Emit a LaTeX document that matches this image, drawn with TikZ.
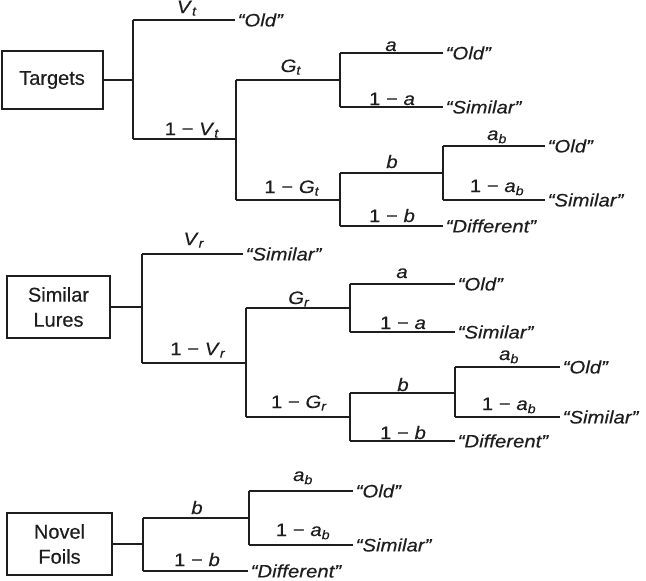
\documentclass[tikz,border=0pt]{standalone}
\usepackage{fontspec}
\setmainfont{Liberation Sans}
\newfontfamily\labfont{Liberation Sans}[FakeStretch=1.13,FakeBold=0.3]
\newfontfamily\boxfont{Liberation Sans}[FakeBold=0.3]
\newcommand\mysub[1]{\textsubscript{\textit{#1}}}
\definecolor{ink}{HTML}{1E1E1E}
\tikzset{
  ln/.style={line width=2pt, draw=ink},
  box/.style={draw=ink, line width=2pt, text=ink, font=\boxfont\fontsize{20}{25}\selectfont, align=center, inner sep=0pt},
  leaf/.style={anchor=west, inner sep=2.5pt, text=ink, font=\labfont\fontsize{18}{20}\selectfont\itshape},
  lbl/.style={anchor=base, inner sep=0pt, text=ink, font=\labfont\fontsize{18}{20}\selectfont},
}
\begin{document}
\begin{tikzpicture}[x=1pt,y=-1pt]
\useasboundingbox (0,0) rectangle (646,581);

% ================= Targets =================
\node[box, minimum width=101pt, minimum height=58pt] (T) at (52,80) {Targets};
\coordinate (tJ) at (133,80);
\coordinate (tVa) at (133,20);
\coordinate (tVb) at (133,139);
\coordinate (tK) at (236,139);
\coordinate (tGa) at (236,80);
\coordinate (tGb) at (236,200);
\coordinate (tA) at (340,80);
\coordinate (tAa) at (340,53);
\coordinate (tAb) at (340,107);
\coordinate (tB) at (340,200);
\coordinate (tBa) at (340,173);
\coordinate (tBb) at (340,226);
\coordinate (tC) at (443,173);
\coordinate (tCa) at (443,146);
\coordinate (tCb) at (443,200);

\node[leaf] (tL1) at (235,20) {“Old”};
\node[leaf] (tL2) at (443,53) {“Old”};
\node[leaf] (tL3) at (443,107) {“Similar”};
\node[leaf] (tL4) at (545,146) {“Old”};
\node[leaf] (tL5) at (545,200) {“Similar”};
\node[leaf] (tL6) at (443,226) {“Different”};

\draw[ln] (T.east) -- (tJ);
\draw[ln] (tVa) -- (tVb);
\draw[ln] (tVa) -- (tL1.west);
\draw[ln] (tVb) -- (tK);
\draw[ln] (tGa) -- (tGb);
\draw[ln] (tGa) -- (tA);
\draw[ln] (tAa) -- (tAb);
\draw[ln] (tAa) -- (tL2.west);
\draw[ln] (tAb) -- (tL3.west);
\draw[ln] (tGb) -- (tB);
\draw[ln] (tBa) -- (tBb);
\draw[ln] (tBa) -- (tC);
\draw[ln] (tCa) -- (tCb);
\draw[ln] (tCa) -- (tL4.west);
\draw[ln] (tCb) -- (tL5.west);
\draw[ln] (tBb) -- (tL6.west);

\node[lbl] (tl1) at (187,13) {\textit{V}\mysub{t}};
\node[lbl] (tl2) at (192,135) {1 − \textit{V}\mysub{t}};
\node[lbl] (tl3) at (291,72) {\textit{G}\mysub{t}};
\node[lbl] (tl4) at (292,193) {1 − \textit{G}\mysub{t}};
\node[lbl] (tl5) at (391,51) {\textit{a}};
\node[lbl] (tl6) at (392,105) {1 − \textit{a}};
\node[lbl] (tl7) at (392,168) {\textit{b}};
\node[lbl] (tl8) at (392,222) {1 − \textit{b}};
\node[lbl] (tl9) at (497,140) {\textit{a}\mysub{b}};
\node[lbl] (tl10) at (497,192) {1 − \textit{a}\mysub{b}};

% ================= Similar Lures =================
\node[box, minimum width=103pt, minimum height=62pt] (S) at (58.5,307) {Similar\\Lures};
\coordinate (sJ) at (142,307);
\coordinate (sVa) at (142,254);
\coordinate (sVb) at (142,363);
\coordinate (sK) at (246,363);
\coordinate (sGa) at (246,308);
\coordinate (sGb) at (246,417);
\coordinate (sA) at (350,308);
\coordinate (sAa) at (350,284);
\coordinate (sAb) at (350,332);
\coordinate (sB) at (350,417);
\coordinate (sBa) at (350,393);
\coordinate (sBb) at (350,441);
\coordinate (sC) at (455,393);
\coordinate (sCa) at (455,367);
\coordinate (sCb) at (455,417);

\node[leaf] (sL1) at (243,254) {“Similar”};
\node[leaf] (sL2) at (455,284) {“Old”};
\node[leaf] (sL3) at (455,332) {“Similar”};
\node[leaf] (sL4) at (560,367) {“Old”};
\node[leaf] (sL5) at (560,417) {“Similar”};
\node[leaf] (sL6) at (455,441) {“Different”};

\draw[ln] (S.east) -- (sJ);
\draw[ln] (sVa) -- (sVb);
\draw[ln] (sVa) -- (sL1.west);
\draw[ln] (sVb) -- (sK);
\draw[ln] (sGa) -- (sGb);
\draw[ln] (sGa) -- (sA);
\draw[ln] (sAa) -- (sAb);
\draw[ln] (sAa) -- (sL2.west);
\draw[ln] (sAb) -- (sL3.west);
\draw[ln] (sGb) -- (sB);
\draw[ln] (sBa) -- (sBb);
\draw[ln] (sBa) -- (sC);
\draw[ln] (sCa) -- (sCb);
\draw[ln] (sCa) -- (sL4.west);
\draw[ln] (sCb) -- (sL5.west);
\draw[ln] (sBb) -- (sL6.west);

\node[lbl] (sl1) at (194,245) {\textit{V}\mysub{r}};
\node[lbl] (sl2) at (198,355) {1 − \textit{V}\mysub{r}};
\node[lbl] (sl3) at (299,304) {\textit{G}\mysub{r}};
\node[lbl] (sl4) at (299,408) {1 − \textit{G}\mysub{r}};
\node[lbl] (sl5) at (402,278) {\textit{a}};
\node[lbl] (sl6) at (403,329) {1 − \textit{a}};
\node[lbl] (sl7) at (403,391) {\textit{b}};
\node[lbl] (sl8) at (403,439) {1 − \textit{b}};
\node[lbl] (sl9) at (509,360) {\textit{a}\mysub{b}};
\node[lbl] (sl10) at (509,410) {1 − \textit{a}\mysub{b}};

% ================= Novel Foils =================
\node[box, minimum width=105pt, minimum height=62pt] (N) at (59.5,544) {Novel\\Foils};
\coordinate (nJ) at (143,544);
\coordinate (nVa) at (143,518);
\coordinate (nVb) at (143,571);
\coordinate (nC) at (249,518);
\coordinate (nCa) at (249,491);
\coordinate (nCb) at (249,545);

\node[leaf] (nL1) at (353,491) {“Old”};
\node[leaf] (nL2) at (353,545) {“Similar”};
\node[leaf] (nL3) at (248,571) {“Different”};

\draw[ln] (N.east) -- (nJ);
\draw[ln] (nVa) -- (nVb);
\draw[ln] (nVa) -- (nC);
\draw[ln] (nCa) -- (nCb);
\draw[ln] (nCa) -- (nL1.west);
\draw[ln] (nCb) -- (nL2.west);
\draw[ln] (nVb) -- (nL3.west);

\node[lbl] (nl1) at (197,514) {\textit{b}};
\node[lbl] (nl2) at (197,566) {1 − \textit{b}};
\node[lbl] (nl3) at (303,481) {\textit{a}\mysub{b}};
\node[lbl] (nl4) at (303,536) {1 − \textit{a}\mysub{b}};
\end{tikzpicture}
\end{document}
